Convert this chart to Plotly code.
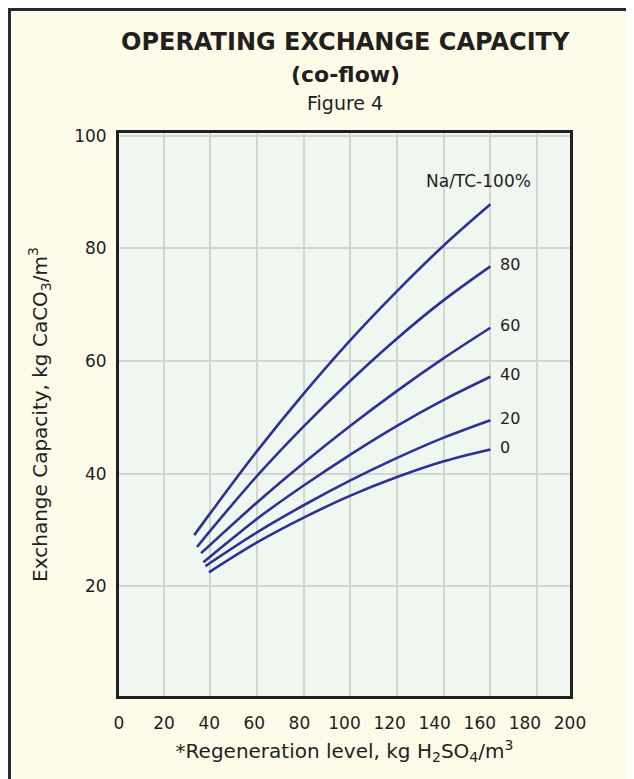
import plotly.graph_objects as go

# ---------------- data ----------------
series_names = ["100%", "80", "60", "40", "20", "0"]
x_100 = [33.1, 40, 60, 80, 100, 120, 140, 160]
y_100 = [29.1, 33.0, 44.0, 54.2, 63.7, 72.4, 80.5, 87.8]
x_80 = [34.3, 40, 60, 80, 100, 120, 140, 160]
y_80 = [27.0, 29.9, 39.6, 48.4, 56.5, 64.0, 70.8, 76.8]
x_60 = [36.0, 40, 60, 80, 100, 120, 140, 160]
y_60 = [25.9, 27.4, 34.9, 41.9, 48.5, 54.7, 60.5, 65.9]
x_40 = [37.0, 40, 60, 80, 100, 120, 140, 160]
y_40 = [24.3, 25.3, 32.0, 37.9, 43.4, 48.5, 53.1, 57.2]
x_20 = [37.9, 40, 60, 80, 100, 120, 140, 160]
y_20 = [23.6, 24.2, 29.6, 34.4, 38.8, 42.8, 46.4, 49.5]
x_0 = [39.4, 60, 80, 100, 120, 140, 160]
y_0 = [22.5, 27.8, 32.2, 36.1, 39.4, 42.2, 44.3]

x_tick_vals = [0, 20, 40, 60, 80, 100, 120, 140, 160, 180, 200]
y_tick_vals = [20, 40, 60, 80, 100]
curve_labels = ["Na/TC-100%", "80", "60", "40", "20", "0"]

title_line1 = "OPERATING EXCHANGE CAPACITY"
title_line2 = "(co-flow)"
title_line3 = "Figure 4"
x_title = "*Regeneration level, kg H<sub>2</sub>SO<sub>4</sub>/m<sup>3</sup>"
y_title = "Exchange Capacity, kg CaCO<sub>3</sub>/m<sup>3</sup>"

# ---------------- style ----------------
W, H = 626, 771          # page body has an 8px margin
L, R, T, B = 111, 64, 125, 83
PW, PH = W - L - R, H - T - B
FONT = "DejaVu Sans"
INK = "#231F20"
CURVE = "#2E3192"
CREAM = "#FFFBE9"
PLOTBG = "#F0F6F0"
GRID = "#D4D4D4"


def px_x(p):
    return (p - L) / PW


def px_y(p):
    return (H - B - p) / PH


xs = [x_100, x_80, x_60, x_40, x_20, x_0]
ys = [y_100, y_80, y_60, y_40, y_20, y_0]

fig = go.Figure()
for name, xv, yv in zip(series_names, xs, ys):
    fig.add_trace(go.Scatter(x=xv, y=yv, mode="lines", name=name,
                             line=dict(color=CURVE, width=2.6, shape="spline", smoothing=1.0),
                             showlegend=False, hoverinfo="skip"))

# invisible trace on the label axis so its tick labels render
fig.add_trace(go.Scatter(x=[0, 200], y=[50, 50], xaxis="x2", mode="lines",
                         line=dict(color="rgba(0,0,0,0)"), showlegend=False, hoverinfo="skip"))

shapes = [
    dict(type="rect", xref="paper", yref="paper",
         x0=px_x(1.5), x1=px_x(619.5), y0=px_y(800), y1=px_y(1.5),
         line=dict(color="#2A2A2A", width=3), fillcolor=CREAM, layer="below"),
    dict(type="rect", xref="paper", yref="paper", x0=0, x1=1, y0=0, y1=1,
         line=dict(width=0), fillcolor=PLOTBG, layer="below"),
]

annotations = [
    dict(text="<b>" + title_line1 + "</b>", x=px_x(337), y=px_y(34), xref="paper", yref="paper",
         showarrow=False, font=dict(family=FONT, size=24, color=INK), xanchor="center", yanchor="middle"),
    dict(text="<b>" + title_line2 + "</b>", x=px_x(337), y=px_y(66), xref="paper", yref="paper",
         showarrow=False, font=dict(family=FONT, size=22, color=INK), xanchor="center", yanchor="middle"),
    dict(text=title_line3, x=px_x(337), y=px_y(95), xref="paper", yref="paper",
         showarrow=False, font=dict(family=FONT, size=19, color=INK), xanchor="center", yanchor="middle"),
]

for i, (lab, xv, yv) in enumerate(zip(curve_labels, xs, ys)):
    if i == 0:
        annotations.append(dict(text=lab, x=xv[-1], y=yv[-1], xref="x", yref="y", showarrow=False,
                                xanchor="center", yanchor="middle", xshift=-12, yshift=23,
                                font=dict(family=FONT, size=17, color=INK)))
    else:
        annotations.append(dict(text=lab, x=xv[-1], y=yv[-1], xref="x", yref="y", showarrow=False,
                                xanchor="left", yanchor="middle", xshift=8, yshift=2,
                                font=dict(family=FONT, size=16, color=INK)))

fig.update_layout(
    width=W, height=H,
    margin=dict(l=L, r=R, t=T, b=B),
    paper_bgcolor="white",
    plot_bgcolor="rgba(0,0,0,0)",
    font=dict(family=FONT, size=17, color=INK),
    shapes=shapes,
    annotations=annotations,
    xaxis=dict(range=[0.86, 194.1], dtick=20, tick0=0, showgrid=True, gridcolor=GRID, gridwidth=1.6,
               showticklabels=False, zeroline=False, showline=True, mirror=True,
               linecolor=INK, linewidth=3, ticks=""),
    xaxis2=dict(range=[0, 200], overlaying="x", side="bottom", anchor="y",
                tickvals=x_tick_vals, ticktext=[str(v) for v in x_tick_vals],
                showgrid=False, zeroline=False, showline=False, ticks="outside",
                ticklen=12, tickcolor="rgba(0,0,0,0)",
                tickfont=dict(family=FONT, size=17, color=INK),
                title=dict(text=x_title, font=dict(family=FONT, size=20, color=INK), standoff=11)),
    yaxis=dict(range=[0.55, 100.46], tickvals=y_tick_vals, showgrid=True, gridcolor=GRID, gridwidth=1.6,
               zeroline=False, showline=True, mirror=True, linecolor=INK, linewidth=3,
               ticks="outside", ticklen=6, tickcolor="rgba(0,0,0,0)",
               tickfont=dict(family=FONT, size=17, color=INK),
               title=dict(text=y_title, font=dict(family=FONT, size=20, color=INK), standoff=22)),
)

fig.write_html("out.html")
